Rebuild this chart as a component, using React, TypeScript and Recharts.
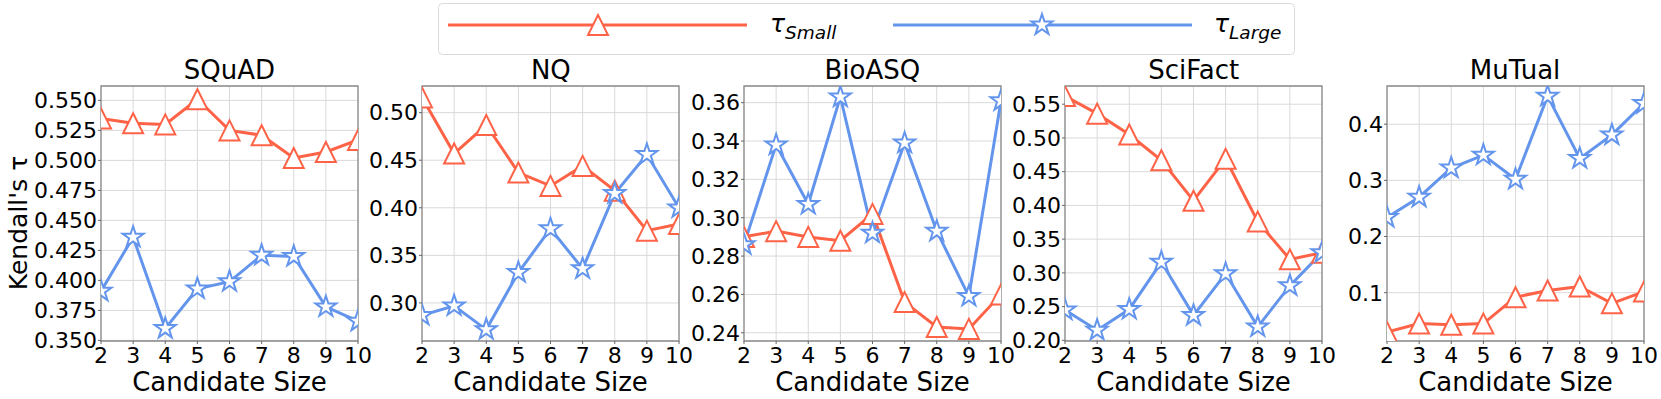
import React from 'react';
import { LineChart, Line, XAxis, YAxis, CartesianGrid, ReferenceArea } from 'recharts';

const RED = '#ff6347';
const BLUE = '#6495ed';
const FONT = '"DejaVu Sans", sans-serif';

// candidate sizes shared by every panel
const sizes = [2, 3, 4, 5, 6, 7, 8, 9, 10];

const squadSmall = [0.535, 0.531, 0.53, 0.551, 0.525, 0.521, 0.502, 0.507, 0.517];
const squadLarge = [0.391, 0.436, 0.36, 0.393, 0.399, 0.421, 0.42, 0.378, 0.366];
const squadTicks = [0.35, 0.375, 0.4, 0.425, 0.45, 0.475, 0.5, 0.525, 0.55];

const nqSmall = [0.516, 0.457, 0.487, 0.437, 0.423, 0.444, 0.418, 0.376, 0.383];
const nqLarge = [0.287, 0.297, 0.272, 0.332, 0.378, 0.336, 0.415, 0.456, 0.4];
const nqTicks = [0.3, 0.35, 0.4, 0.45, 0.5];

const bioSmall = [0.29, 0.293, 0.29, 0.288, 0.302, 0.256, 0.243, 0.242, 0.26];
const bioLarge = [0.286, 0.338, 0.307, 0.363, 0.292, 0.339, 0.293, 0.259, 0.361];
const bioTicks = [0.24, 0.26, 0.28, 0.3, 0.32, 0.34, 0.36];

const sciSmall = [0.562, 0.536, 0.505, 0.467, 0.407, 0.469, 0.376, 0.32, 0.33];
const sciLarge = [0.245, 0.215, 0.246, 0.316, 0.237, 0.299, 0.22, 0.281, 0.33];
const sciTicks = [0.2, 0.25, 0.3, 0.35, 0.4, 0.45, 0.5, 0.55];

const mutualSmall = [0.03, 0.045, 0.043, 0.045, 0.092, 0.104, 0.111, 0.081, 0.102];
const mutualLarge = [0.234, 0.27, 0.322, 0.345, 0.302, 0.45, 0.339, 0.381, 0.437];
const mutualTicks = [0.1, 0.2, 0.3, 0.4];

const panels = [
  { title: 'SQuAD', small: squadSmall, large: squadLarge, ticks: squadTicks, domain: [0.3495, 0.562], digits: 3 },
  { title: 'NQ', small: nqSmall, large: nqLarge, ticks: nqTicks, domain: [0.26, 0.528], digits: 2 },
  { title: 'BioASQ', small: bioSmall, large: bioLarge, ticks: bioTicks, domain: [0.2357, 0.3687], digits: 2 },
  { title: 'SciFact', small: sciSmall, large: sciLarge, ticks: sciTicks, domain: [0.199, 0.577], digits: 2 },
  { title: 'MuTual', small: mutualSmall, large: mutualLarge, ticks: mutualTicks, domain: [0.014, 0.468], digits: 1 },
];

const PLOT_W = 257;
const PLOT_TOP = 86;
const X_AXIS_H = 58;
const AXIS_W = 80;
const RIGHT = 22;
const FIRST_LEFT = 101;
const STEP = 321.4;

const Triangle = ({ cx, cy, r = 10 }: { cx: number; cy: number; r?: number }) => (
  <path
    d={`M${cx},${cy - r}L${cx + r},${cy + r}L${cx - r},${cy + r}Z`}
    fill="#fff"
    stroke={RED}
    strokeWidth={2}
    strokeLinejoin="miter"
  />
);

const Star = ({ cx, cy, r = 11 }: { cx: number; cy: number; r?: number }) => {
  const pts: string[] = [];
  for (let k = 0; k < 10; k++) {
    const rad = k % 2 === 0 ? r : r * 0.382;
    const a = -Math.PI / 2 + (k * Math.PI) / 5;
    pts.push(`${cx + rad * Math.cos(a)},${cy + rad * Math.sin(a)}`);
  }
  return <polygon points={pts.join(' ')} fill="#fff" stroke={BLUE} strokeWidth={2} />;
};

const Panel = ({ p, i }: { p: (typeof panels)[number]; i: number }) => {
  const rows = sizes.map((s, k) => ({ size: s, small: p.small[k], large: p.large[k] }));
  const left = FIRST_LEFT + i * STEP;
  return (
    <>
      <div
        style={{
          position: 'absolute',
          left,
          top: 55,
          width: PLOT_W,
          textAlign: 'center',
          fontSize: 26,
          lineHeight: '30px',
          fontFamily: FONT,
        }}
      >
        {p.title}
      </div>
      <div style={{ position: 'absolute', left: left - AXIS_W, top: 0 }}>
        <LineChart
          width={AXIS_W + PLOT_W + RIGHT}
          height={399}
          data={rows}
          margin={{ top: PLOT_TOP, right: RIGHT, left: 0, bottom: 0 }}
        >
          <CartesianGrid stroke="#d9d9d9" strokeWidth={1} />
          <XAxis
            dataKey="size"
            type="number"
            domain={[2, 10]}
            ticks={sizes}
            interval={0}
            allowDataOverflow
            height={X_AXIS_H}
            axisLine={false}
            tickLine={{ stroke: '#666', strokeWidth: 1 }}
            tickSize={3}
            tickMargin={3}
            tick={{ fontSize: 22, fill: '#000', fontFamily: FONT }}
            label={{ value: 'Candidate Size', position: 'insideBottom', offset: 8, fontSize: 26, fill: '#000', fontFamily: FONT }}
          />
          <YAxis
            type="number"
            domain={p.domain}
            ticks={p.ticks}
            interval={0}
            allowDataOverflow
            width={AXIS_W}
            axisLine={false}
            tickLine={{ stroke: '#666', strokeWidth: 1 }}
            tickSize={3}
            tickMargin={1}
            tickFormatter={(v: number) => v.toFixed(p.digits)}
            tick={{ fontSize: 22, fill: '#000', fontFamily: FONT }}
          />
          <Line
            dataKey="small"
            stroke={RED}
            strokeWidth={3}
            isAnimationActive={false}
            dot={(d: any) => <Triangle key={`t${d.index}`} cx={d.cx} cy={d.cy} />}
          />
          <Line
            dataKey="large"
            stroke={BLUE}
            strokeWidth={3}
            isAnimationActive={false}
            dot={(d: any) => <Star key={`s${d.index}`} cx={d.cx} cy={d.cy} />}
          />
          <ReferenceArea
            x1={2}
            x2={10}
            y1={p.domain[0]}
            y2={p.domain[1]}
            fill="none"
            fillOpacity={0}
            stroke="#8c8c8c"
            strokeWidth={1.3}
          />
        </LineChart>
      </div>
    </>
  );
};

const LegendBox = () => (
  <svg
    width={857}
    height={52}
    style={{ position: 'absolute', left: 438, top: 3, fontFamily: FONT }}
  >
    <rect x={0.5} y={0.5} width={856} height={51} rx={4} fill="#fff" stroke="#dadada" />
    <line x1={10} x2={309} y1={22} y2={22} stroke={RED} strokeWidth={3} />
    <Triangle cx={160} cy={22} r={10} />
    <text x={332} y={29} fontSize={25} fontStyle="italic">
      τ<tspan fontSize={18.5} dy={7}>Small</tspan>
    </text>
    <line x1={455} x2={754} y1={22} y2={22} stroke={BLUE} strokeWidth={3} />
    <Star cx={604} cy={22} r={11} />
    <text x={776} y={29} fontSize={25} fontStyle="italic">
      τ<tspan fontSize={18.5} dy={7}>Large</tspan>
    </text>
  </svg>
);

export default function App() {
  return (
    <div style={{ position: 'absolute', left: 0, top: 0, width: 1661, height: 399, background: '#fff', overflow: 'hidden' }}>
      {panels.map((p, i) => (
        <Panel key={p.title} p={p} i={i} />
      ))}
      <svg width={40} height={399} style={{ position: 'absolute', left: 0, top: 0 }}>
        <text
          transform="translate(27,223) rotate(-90)"
          textAnchor="middle"
          fontSize={25}
          fontFamily={FONT}
        >
          Kendall's τ
        </text>
      </svg>
      <LegendBox />
    </div>
  );
}
